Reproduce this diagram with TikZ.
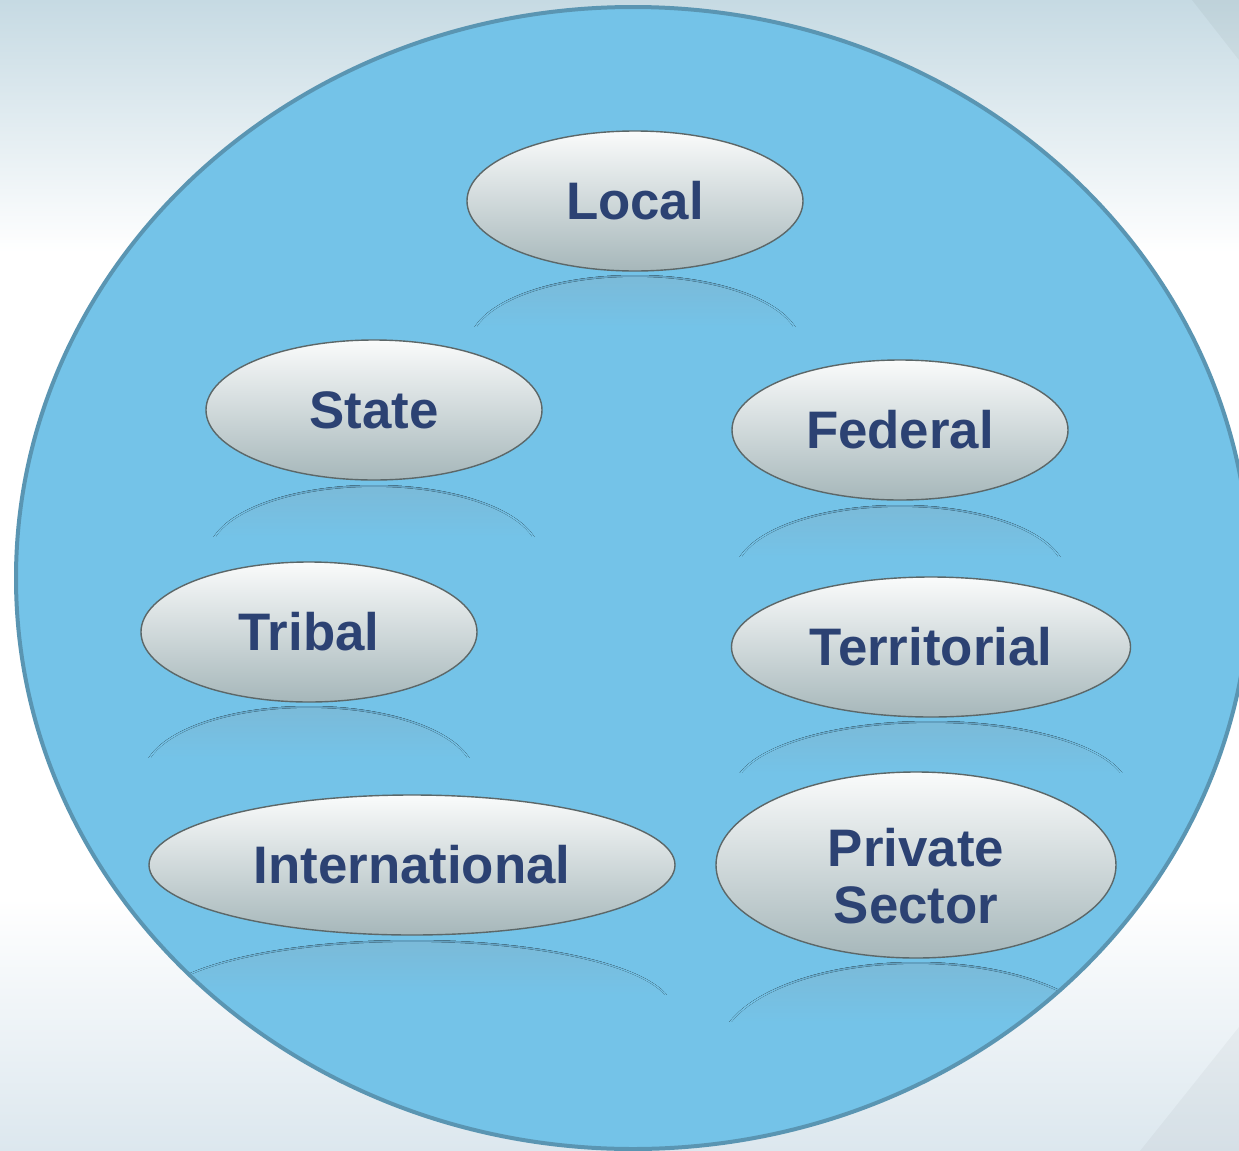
\documentclass[tikz,border=0pt]{standalone}
\usepackage{fontspec}
\setmainfont{Liberation Sans}
\usetikzlibrary{shapes.geometric}
\definecolor{bgtop}{HTML}{C6DAE3}
\definecolor{bgbot}{HTML}{DCE7EE}
\definecolor{circfill}{HTML}{74C3E8}
\definecolor{circline}{HTML}{5A95B2}
\definecolor{nodetop}{HTML}{FAFBFB}
\definecolor{nodebot}{HTML}{A6B7BA}
\definecolor{nodeline}{HTML}{5C6768}
\definecolor{textcol}{HTML}{2C4273}
\definecolor{reflfill}{HTML}{7BBAD8}
\definecolor{reflline}{HTML}{62A0C0}
\pgfdeclareverticalshading{bgshade}{100bp}{color(0bp)=(bgbot); color(25bp)=(bgbot); color(36bp)=(white); color(64bp)=(white); color(75bp)=(bgtop); color(100bp)=(bgtop)}
\pgfdeclareverticalshading{rimshade}{100bp}{color(0bp)=(circfill); color(25bp)=(circfill); color(45bp)=(circfill); color(75bp)=(reflline); color(100bp)=(reflline)}
\tikzset{
  oval/.style={ellipse, draw=nodeline, line width=1.4bp, top color=nodetop, bottom color=nodebot,
    inner sep=0pt, text=textcol, font=\fontsize{53}{57}\selectfont\bfseries, align=center},
  reflbody/.style={top color=reflfill, bottom color=circfill},
  reflrim/.style={shading=rimshade},
}
% #1 cx, #2 top (pixels down), #3 rx, #4 ry, #5 visible height
\newcommand{\reflect}[5]{%
  \begin{scope}
    \clip (#1-#3,-#2) rectangle (#1+#3,-#2-#5);
    \clip (#1,-#2-#4) ellipse [x radius=#3, y radius=#4];
    \fill[reflbody] (#1-#3,-#2) rectangle (#1+#3,-#2-#5);
  \end{scope}
  \begin{scope}[even odd rule]
    \clip (#1-#3,-#2) rectangle (#1+#3,-#2-#5);
    \clip (#1,-#2-#4) ellipse [x radius=#3, y radius=#4]
          (#1,-#2-#4) ellipse [x radius=#3-1.8, y radius=#4-1.8];
    \fill[reflrim] (#1-#3,-#2) rectangle (#1+#3,-#2-#5);
  \end{scope}}
\begin{document}
\begin{tikzpicture}[x=1bp,y=1bp]
\useasboundingbox (0,0) rectangle (1239,-1151);
\clip (0,0) rectangle (1239,-1151);
\fill[shading=bgshade] (0,0) rectangle (1239,-1151);
\fill[black, opacity=0.035] (1192,0) -- (1239,0) -- (1239,-60) -- cycle;
\fill[black, opacity=0.03] (1239,-1027) -- (1239,-1151) -- (1140,-1151) -- cycle;
\fill[circfill] (633,-578) ellipse [x radius=617, y radius=571];
% reflections, inside the circle
\begin{scope}
  \clip (633,-578) ellipse [x radius=617, y radius=571];
  \reflect{635}{275}{166}{70}{52}
  \reflect{374}{485}{166}{70}{52}
  \reflect{900}{505}{166}{70}{52}
  \reflect{309}{706}{166}{70}{52}
  \reflect{931}{721}{198}{70}{52}
  \reflect{412}{940}{261}{70}{55}
  \reflect{916}{962}{198}{90}{60}
\end{scope}
\draw[draw=circline, line width=4bp] (633,-578) ellipse [x radius=617, y radius=571];
% nodes
\node[oval, minimum width=336bp, minimum height=140bp] (local) at (635,-201) {Local};
\node[oval, minimum width=336bp, minimum height=140bp] (state) at (374,-410) {State};
\node[oval, minimum width=336bp, minimum height=140bp] (federal) at (900,-430) {Federal};
\node[oval, minimum width=336bp, minimum height=140bp] (tribal) at (309,-632) {Tribal};
\node[oval, minimum width=399bp, minimum height=140bp] (territorial) at (931,-647) {Territorial};
\node[oval, minimum width=526bp, minimum height=140bp] (intl) at (412,-865) {International};
\node[oval, minimum width=400bp, minimum height=186bp] (private) at (916,-865)
  {\raisebox{-19bp}[\height][\depth]{\begin{tabular}{@{}c@{}}Private\\Sector\end{tabular}}};
\end{tikzpicture}
\end{document}
